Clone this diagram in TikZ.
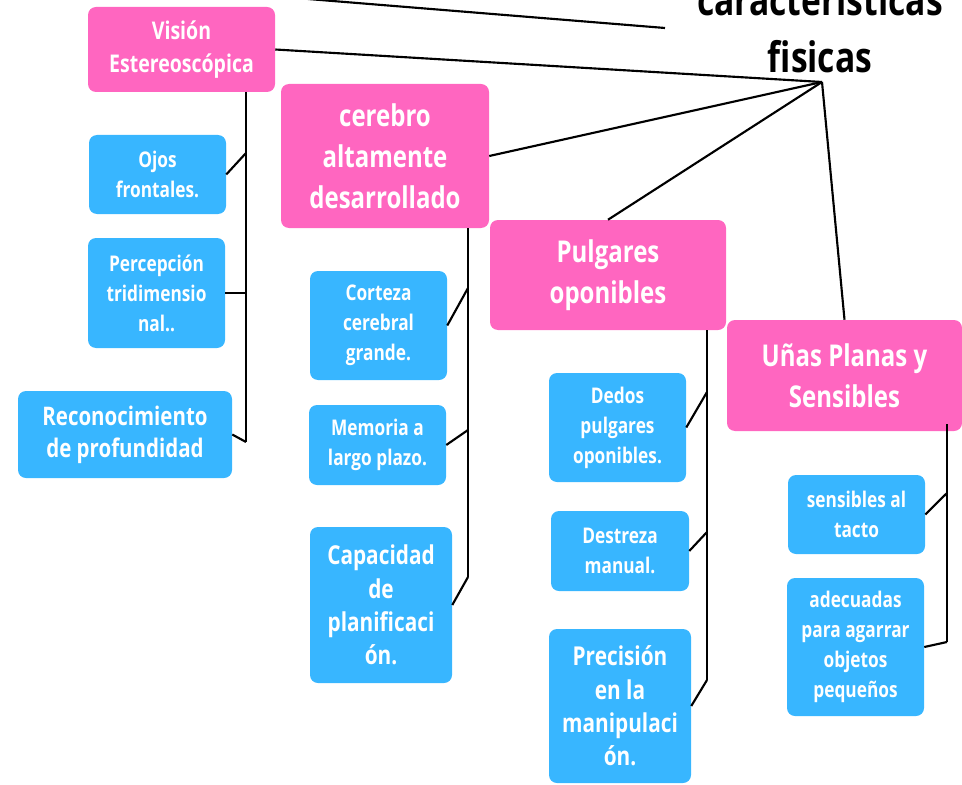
\documentclass[tikz,border=0pt]{standalone}
\usepackage{fontspec}
\setmainfont{Open Sans}[FakeStretch=0.8]
\definecolor{pinkbox}{HTML}{FF66C0}
\definecolor{bluebox}{HTML}{38B6FF}
\begin{document}
\begin{tikzpicture}[x=0.75pt,y=-0.75pt,
  box/.style={rounded corners=6pt, inner sep=0pt, align=center, text=white},
  wh/.style 2 args={minimum width=#1*0.75pt, minimum height=#2*0.75pt},
  pinkb/.style={box, fill=pinkbox},
  blueb/.style={box, fill=bluebox},
  fbig/.style={font=\fontsize{22.5pt}{30.75pt}\selectfont\bfseries},
  fmid/.style={font=\fontsize{18.3pt}{24.75pt}\selectfont\bfseries},
  fsmall/.style={font=\fontsize{16.2pt}{22.5pt}\selectfont\bfseries},
  frec/.style={font=\fontsize{19.2pt}{24pt}\selectfont\bfseries},
  fcap/.style={font=\fontsize{19.5pt}{25pt}\selectfont\bfseries},
  conn/.style={line width=1.6pt, black}]
\useasboundingbox (0,0) rectangle (962,784);
\clip (0,0) rectangle (962,784);

% title
\node[align=center, inner sep=0pt, font=\fontsize{31.5pt}{42.75pt}\selectfont\bfseries] (title) at (820,28) {caracteristicas\\fisicas};
\coordinate (hub) at (822,82);
\coordinate (ext) at (308,-1);
\coordinate (tend) at (665,28);

% main boxes
\node[pinkb, fmid, wh={187}{85}] (vision) at (181.5,49.5) {Visión\\Estereoscópica};
\node[pinkb, fbig, wh={208}{144}] (cerebro) at (385,156) {cerebro\\altamente\\desarrollado};
\node[pinkb, fbig, wh={236}{110}] (pulgares) at (608,275) {Pulgares\\oponibles};
\node[pinkb, fbig, wh={235}{111}] (unas) at (844.5,375.5) {Uñas Planas y\\Sensibles};

% children
\node[blueb, fsmall, wh={137}{79}] (ojos) at (157.5,174.5) {Ojos\\frontales.};
\node[blueb, fsmall, wh={137}{110}] (perc) at (156.5,293) {Percepción\\tridimensio\\nal..};
\node[blueb, frec, wh={214}{87}] (recon) at (125,434.5) {Reconocimiento\\de profundidad};

\node[blueb, fsmall, wh={137}{109}] (corteza) at (378.5,325.5) {Corteza\\cerebral\\grande.};
\node[blueb, fsmall, wh={137}{80}] (memoria) at (377.5,445) {Memoria a\\largo plazo.};
\node[blueb, fcap, wh={142}{156}] (capac) at (381,605) {Capacidad\\de\\planificaci\\ón.};

\node[blueb, fsmall, wh={137}{109}] (dedos) at (617.5,427.5) {Dedos\\pulgares\\oponibles.};
\node[blueb, fsmall, wh={138}{80}] (destreza) at (620,551) {Destreza\\manual.};
\node[blueb, fcap, wh={142}{154}] (precision) at (620,706) {Precisión\\en la\\manipulaci\\ón.};

\node[blueb, fsmall, wh={137}{79}] (sensibles) at (856.5,514.5) {sensibles al\\tacto};
\node[blueb, fsmall, wh={137}{138}] (adecuadas) at (855.5,647) {adecuadas\\para agarrar\\objetos\\pequeños};

% trunk coordinates
\coordinate (v0) at (246,92);  \coordinate (v1) at (246,153);
\coordinate (v2) at (246,293); \coordinate (v3) at (246,442);
\coordinate (c0) at (468,228); \coordinate (c1) at (468,288);
\coordinate (c2) at (468,430); \coordinate (c3) at (468,577);
\coordinate (p0) at (707,330); \coordinate (p1) at (707,392);
\coordinate (p2) at (707,532); \coordinate (p3) at (707,680);
\coordinate (u0) at (947,424); \coordinate (u1) at (947,493);
\coordinate (u2) at (947,642);

% connectors
\draw[conn] (ext) -- (tend);
\draw[conn] (vision.east) -- (hub);
\draw[conn] (cerebro.east) -- (hub);
\draw[conn] (pulgares.north) -- (hub);
\draw[conn] (unas.north) -- (hub);

\draw[conn] (v0) -- (v3);
\draw[conn] (ojos.east) -- (v1);
\draw[conn] (perc.east) -- (v2);
\draw[conn] (recon.east) -- (v3);

\draw[conn] (c0) -- (c3);
\draw[conn] (corteza.east) -- (c1);
\draw[conn] (memoria.east) -- (c2);
\draw[conn] (capac.east) -- (c3);

\draw[conn] (p0) -- (p3);
\draw[conn] (dedos.east) -- (p1);
\draw[conn] (destreza.east) -- (p2);
\draw[conn] (precision.east) -- (p3);

\draw[conn] (u0) -- (u2);
\draw[conn] (sensibles.east) -- (u1);
\draw[conn] (adecuadas.east) -- (u2);
\end{tikzpicture}
\end{document}
